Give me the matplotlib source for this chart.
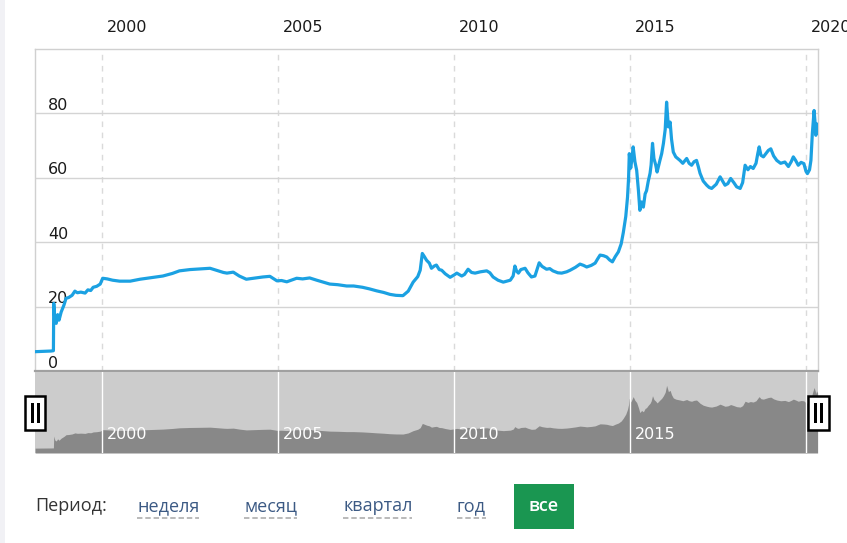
import matplotlib
matplotlib.use("Agg")
import matplotlib.pyplot as plt
from matplotlib.patches import Rectangle
from matplotlib.lines import Line2D
from matplotlib.transforms import ScaledTranslation

# ---- data (decimal year, rate) ----
years = [1998.10, 1998.30, 1998.55, 1998.62, 1998.63, 1998.66, 1998.70, 1998.74, 1998.78, 1998.84,
         1998.92, 1998.98, 1999.05, 1999.15, 1999.23, 1999.30, 1999.40, 1999.52, 1999.60, 1999.68,
         1999.75, 1999.85, 1999.95, 2000.02, 2000.15, 2000.30, 2000.50, 2000.80, 2001.08, 2001.40,
         2001.73, 2002.00, 2002.20, 2002.50, 2002.80, 2003.07, 2003.25, 2003.45, 2003.55, 2003.73,
         2003.90, 2004.10, 2004.30, 2004.57, 2004.77, 2004.97, 2005.10, 2005.25, 2005.53, 2005.70,
         2005.90, 2006.10, 2006.47, 2006.70, 2006.95, 2007.15, 2007.40, 2007.60, 2007.80, 2008.00,
         2008.18, 2008.35, 2008.55, 2008.70, 2008.84, 2008.97, 2009.04, 2009.10, 2009.16, 2009.22,
         2009.30, 2009.36, 2009.44, 2009.50, 2009.58, 2009.65, 2009.75, 2009.89, 2010.00, 2010.08,
         2010.22, 2010.30, 2010.40, 2010.50, 2010.60, 2010.75, 2010.93, 2011.02, 2011.11, 2011.25,
         2011.40, 2011.50, 2011.60, 2011.68, 2011.73, 2011.78, 2011.83, 2011.90, 2012.02, 2012.10,
         2012.20, 2012.30, 2012.42, 2012.50, 2012.63, 2012.72, 2012.81, 2012.95, 2013.06, 2013.20,
         2013.30, 2013.45, 2013.58, 2013.68, 2013.77, 2013.90, 2014.01, 2014.08, 2014.15, 2014.25,
         2014.34, 2014.42, 2014.50, 2014.58, 2014.67, 2014.75, 2014.81, 2014.88, 2014.93, 2014.96,
         2014.98, 2015.02, 2015.05, 2015.09, 2015.14, 2015.19, 2015.24, 2015.28, 2015.33, 2015.38,
         2015.43, 2015.47, 2015.52, 2015.57, 2015.60, 2015.64, 2015.68, 2015.73, 2015.77, 2015.85,
         2015.90, 2015.95, 2016.00, 2016.04, 2016.07, 2016.09, 2016.14, 2016.18, 2016.23, 2016.30,
         2016.42, 2016.50, 2016.61, 2016.68, 2016.75, 2016.82, 2016.89, 2016.94, 2016.99, 2017.08,
         2017.18, 2017.25, 2017.32, 2017.45, 2017.56, 2017.63, 2017.70, 2017.78, 2017.86, 2017.95,
         2018.03, 2018.13, 2018.20, 2018.27, 2018.35, 2018.42, 2018.50, 2018.58, 2018.63, 2018.67,
         2018.72, 2018.79, 2018.86, 2018.93, 2019.00, 2019.08, 2019.17, 2019.28, 2019.40, 2019.50,
         2019.58, 2019.64, 2019.70, 2019.78, 2019.86, 2019.94, 2020.00, 2020.04, 2020.10, 2020.14,
         2020.18, 2020.23, 2020.26, 2020.28, 2020.30, 2020.33]
rates = [6.0, 6.1, 6.2, 6.3, 21.0, 16.0, 14.8, 17.5, 15.8, 18.3,
         20.5, 22.6, 22.8, 23.5, 24.8, 24.3, 24.5, 24.2, 25.2, 25.0,
         26.0, 26.3, 27.0, 28.8, 28.6, 28.2, 27.9, 27.9, 28.5, 29.0,
         29.5, 30.3, 31.1, 31.5, 31.7, 31.9, 31.3, 30.6, 30.4, 30.7,
         29.5, 28.5, 28.8, 29.2, 29.4, 28.0, 28.1, 27.7, 28.8, 28.6,
         28.9, 28.2, 27.0, 26.8, 26.4, 26.4, 26.0, 25.5, 24.9, 24.4,
         23.8, 23.5, 23.4, 24.8, 27.6, 29.3, 31.3, 36.5, 35.5, 34.4,
         33.5, 31.9, 32.6, 32.9, 31.5, 31.3, 30.2, 29.1, 29.8, 30.4,
         29.5, 30.0, 31.6, 30.6, 30.4, 30.8, 31.1, 30.5, 29.2, 28.2,
         27.6, 27.9, 28.2, 29.5, 32.6, 31.0, 30.4, 31.5, 31.9, 30.5,
         29.2, 29.5, 33.6, 32.5, 31.6, 31.8, 31.1, 30.5, 30.4, 30.8,
         31.3, 32.2, 33.2, 32.8, 32.3, 32.8, 33.5, 34.8, 36.0, 35.8,
         35.4, 34.5, 33.9, 35.5, 37.0, 39.5, 43.0, 48.0, 54.0, 60.0,
         67.5, 63.0, 65.4, 69.6, 65.0, 62.3, 56.0, 49.9, 52.5, 50.9,
         55.0, 56.0, 59.0, 61.4, 64.0, 70.7, 66.0, 64.0, 61.8, 65.4,
         67.5, 70.7, 75.0, 83.5, 79.0, 75.8, 77.3, 72.0, 68.0, 66.5,
         65.4, 64.5, 66.0, 64.5, 63.9, 65.0, 65.4, 63.5, 61.4, 59.0,
         57.7, 57.0, 56.7, 58.0, 60.3, 59.0, 57.7, 58.2, 59.8, 58.5,
         57.2, 56.7, 58.5, 63.9, 62.5, 63.5, 62.9, 64.5, 67.5, 69.6,
         67.0, 66.5, 67.5, 68.5, 69.0, 66.8, 65.4, 64.5, 64.9, 63.5,
         65.0, 66.5, 65.5, 63.9, 64.8, 64.4, 62.0, 61.3, 62.5, 65.4,
         73.7, 80.9, 76.8, 73.2, 76.8, 74.0]

year_ticks = [2000, 2005, 2010, 2015, 2020]
year_labels = ["2000", "2005", "2010", "2015", "2020"]
value_ticks = [0, 20, 40, 60, 80]
value_labels = ["0", "20", "40", "60", "80"]
period_label = "Период:"
period_links = ["неделя", "месяц", "квартал", "год"]
active_period = "все"

W, H = 847, 543
X_MIN, X_MAX = 1998.097, 2020.341


def fx(px):
    return px / W


def fy(py):
    return 1 - py / H


fig = plt.figure(figsize=(W / 100, H / 100), dpi=100)
fig.patch.set_facecolor("white")

# left page strip
fig.add_artist(Rectangle((0, 0), fx(4.5), 1, transform=fig.transFigure,
                         facecolor="#f1f1f5", edgecolor="none"))

# ---- main chart ----
ax = fig.add_axes([fx(35), fy(371), fx(818) - fx(35), fy(49) - fy(371)])
ax.plot(years, rates, color="#1ba1e2", lw=2.3, solid_joinstyle="round", zorder=3)
ax.set_xlim(X_MIN, X_MAX)
ax.set_ylim(0, 100)
ax.set_xticks(year_ticks)
ax.set_xticklabels(year_labels)
ax.set_yticks(value_ticks)
ax.set_yticklabels(value_labels)
ax.tick_params(axis="x", length=0, labelbottom=False, labeltop=True, pad=10,
               labelsize=11.5, labelcolor="#1a1a1a")
ax.tick_params(axis="y", length=0, pad=-9.5, labelsize=11.5, labelcolor="#1a1a1a")
for lab in ax.get_xticklabels():
    lab.set_ha("left")
    lab.set_transform(lab.get_transform() + ScaledTranslation(5 / 100, 0, fig.dpi_scale_trans))
for lab in ax.get_yticklabels():
    lab.set_ha("left")
    lab.set_va("bottom")
    lab.set_transform(lab.get_transform() + ScaledTranslation(0, 0.5 / 100, fig.dpi_scale_trans))
ax.yaxis.grid(True, color="#d4d4d4", lw=1.0)
ax.xaxis.grid(True, color="#dadada", lw=1.0, ls=(0, (4, 4)))
ax.set_axisbelow(True)
for s in ["top", "left", "right"]:
    ax.spines[s].set_color("#d0d0d0")
    ax.spines[s].set_linewidth(1.0)
ax.spines["bottom"].set_color("#a0a0a0")
ax.spines["bottom"].set_linewidth(1.6)

# ---- navigator ----
nav = fig.add_axes([fx(35), fy(453), fx(818) - fx(35), fy(372) - fy(453)])
nav.set_facecolor("#cccccc")
nav.fill_between(years, rates, 0, color="#888888", lw=0, zorder=2)
nav.set_xlim(X_MIN, X_MAX)
nav.set_ylim(0, 100)
nav.set_xticks(year_ticks)
nav.set_yticks([])
nav.xaxis.grid(True, color="white", lw=1.0)
nav.set_axisbelow(False)
nav.tick_params(axis="x", length=0, labelbottom=False)
for s in nav.spines.values():
    s.set_visible(False)
for yr, lab in zip(year_ticks[:-1], year_labels[:-1]):
    nav.annotate(lab, xy=(yr, 0), xycoords=("data", "axes fraction"),
                 xytext=(3.2, 8), textcoords="offset points",
                 ha="left", va="bottom", color="white", fontsize=11.5, zorder=4)


def handle(x0, x1, y0, y1):
    fig.add_artist(Rectangle((fx(x0), fy(y1)), fx(x1) - fx(x0), fy(y0) - fy(y1),
                             transform=fig.transFigure, facecolor="white",
                             edgecolor="black", lw=1.8, zorder=10))
    for bx in (x0 + 6.5, x0 + 12.5):
        fig.add_artist(Rectangle((fx(bx), fy(y1 - 7)), fx(2.6), fy(y0 + 6) - fy(y1 - 7),
                                 transform=fig.transFigure, facecolor="black",
                                 edgecolor="none", zorder=11))


handle(24.5, 45, 396.5, 429.5)
handle(807.5, 828.5, 396.5, 429.5)

# ---- period selector ----
ui_font = ["Open Sans", "DejaVu Sans"]
fig.text(fx(35), fy(506), period_label, ha="left", va="center", fontsize=13,
         color="#333333", family=ui_font)
link_x = [137, 244, 343, 457]
for lx, name in zip(link_x, period_links):
    t = fig.text(fx(lx), fy(506), name, ha="left", va="center", fontsize=13,
                 color="#3c5a84", family=ui_font)
    fig.canvas.draw() if False else None
fig.canvas.draw()
renderer = fig.canvas.get_renderer()
for t in fig.texts[1:]:
    bb = t.get_window_extent(renderer)
    fig.add_artist(Line2D([bb.x0 / W, bb.x1 / W], [fy(517.5), fy(517.5)],
                          transform=fig.transFigure, color="#b4b4b4", lw=1.3,
                          ls=(0, (3, 1.6))))

fig.add_artist(Rectangle((fx(514), fy(528.5)), fx(573.5) - fx(514), fy(484) - fy(528.5),
                         transform=fig.transFigure, facecolor="#1a9651",
                         edgecolor="none"))
fig.text(fx(543.7), fy(506), active_period, ha="center", va="center", fontsize=13,
         color="white", family=ui_font, fontweight="semibold")

fig.savefig("out.png", dpi=100)
